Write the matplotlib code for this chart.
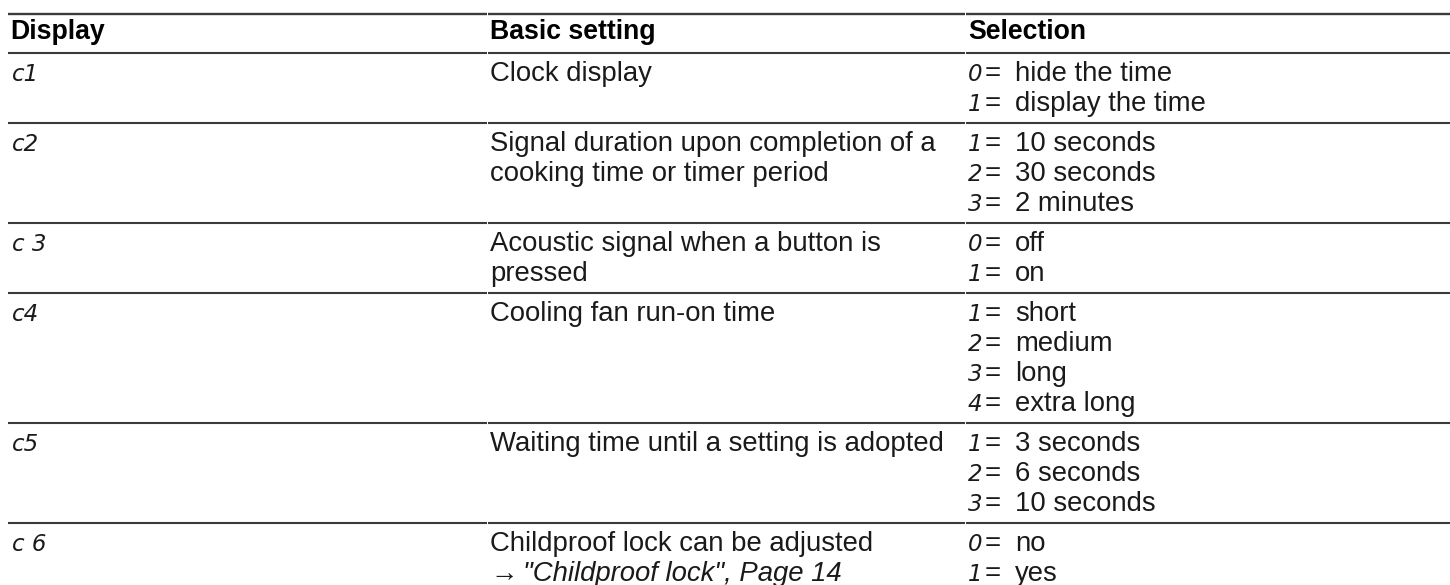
import matplotlib
matplotlib.use("Agg")
import matplotlib.pyplot as plt

# ---- table content ----
headers = ["Display", "Basic setting", "Selection"]
codes = ["c1", "c2", "c 3", "c4", "c5", "c 6"]
settings = [
    ["Clock display"],
    ["Signal duration upon completion of a", "cooking time or timer period"],
    ["Acoustic signal when a button is", "pressed"],
    ["Cooling fan run-on time"],
    ["Waiting time until a setting is adopted"],
    ["Childproof lock can be adjusted"],
]
setting_refs = ["", "", "", "", "", "\"Childproof lock\", Page 14"]
sel_keys = [["0", "1"], ["1", "2", "3"], ["0", "1"], ["1", "2", "3", "4"],
            ["1", "2", "3"], ["0", "1"]]
sel_vals = [["hide the time", "display the time"],
            ["10 seconds", "30 seconds", "2 minutes"],
            ["off", "on"],
            ["short", "medium", "long", "extra long"],
            ["3 seconds", "6 seconds", "10 seconds"],
            ["no", "yes"]]

# ---- layout ----
W, H = 1450, 585
col_x = [10, 490, 968]
seg = [(8, 487), (488, 965), (966, 1450)]
header_top, header_bot = 14, 53
first_off, line_h, bot_pad = 28, 30, 12
FS = 19.8
HFS = 19.2
SFS = 16.5
TXT = "#1a1a1a"
LINE = "#3a3a3a"
FAM = ["Liberation Sans", "DejaVu Sans"]
SEG_FAM = ["DejaVu Sans"]

fig = plt.figure(figsize=(W / 100, H / 100), dpi=100)
ax = fig.add_axes([0, 0, 1, 1])
ax.set_xlim(0, W)
ax.set_ylim(H, 0)
ax.axis("off")


def hline(y, lw=1.5):
    for a, b in seg:
        ax.plot([a, b], [y, y], color=LINE, lw=lw, solid_capstyle="butt")


hline(header_top, 1.7)
for x, h in zip(col_x, headers):
    ax.text(x, 39, h, fontsize=HFS, fontweight="bold", family=FAM,
            color="#000000", va="baseline", ha="left")
hline(header_bot, 1.5)

top = header_bot
for i in range(len(codes)):
    n = max(len(settings[i]) + (1 if setting_refs[i] else 0), len(sel_keys[i]))
    base = top + first_off
    ax.text(col_x[0] + 2, base, codes[i], fontsize=SFS, family=SEG_FAM,
            style="italic", color=TXT, va="baseline")
    for j, s in enumerate(settings[i]):
        ax.text(col_x[1], base + j * line_h, s, fontsize=FS, family=FAM,
                color=TXT, va="baseline")
    if setting_refs[i]:
        y = base + len(settings[i]) * line_h
        ax.text(col_x[1], y, "\u2192", fontsize=FS, family=FAM, color=TXT,
                va="baseline")
        ax.text(col_x[1] + 33, y, setting_refs[i], fontsize=FS, family=FAM,
                style="italic", color=TXT, va="baseline")
    for j, (k, v) in enumerate(zip(sel_keys[i], sel_vals[i])):
        y = base + j * line_h
        ax.text(col_x[2], y, k, fontsize=SFS, family=SEG_FAM,
                style="italic", color=TXT, va="baseline")
        ax.text(col_x[2] + 17, y, "=", fontsize=FS, family=FAM,
                color=TXT, va="baseline")
        ax.text(col_x[2] + 47, y, v, fontsize=FS, family=FAM,
                color=TXT, va="baseline")
    bottom = base + (n - 1) * line_h + bot_pad
    if i < len(codes) - 1:
        hline(bottom)
    top = bottom

fig.savefig("out.png", dpi=100, facecolor="white")
